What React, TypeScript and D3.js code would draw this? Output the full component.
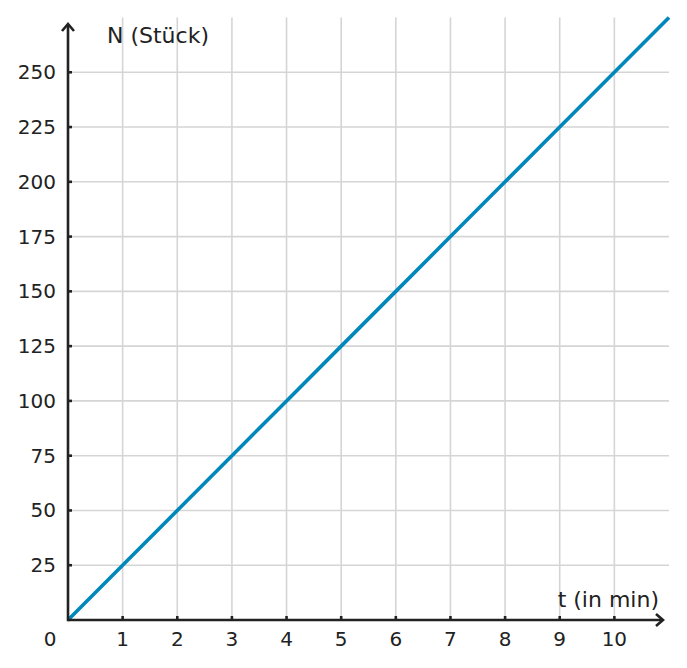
import { useMemo } from "react";
import * as d3 from "d3";

// measured points of the line N(t)
const timeValues = [0, 1, 2, 3, 4, 5, 6, 7, 8, 9, 10, 11];
const countValues = [0, 25, 50, 75, 100, 125, 150, 175, 200, 225, 250, 275];

const xTicks = [1, 2, 3, 4, 5, 6, 7, 8, 9, 10];
const yTicks = [25, 50, 75, 100, 125, 150, 175, 200, 225, 250];

const xTitle = "t (in min)";
const yTitle = "N (Stück)";

const width = 687;
const height = 668;
const font = "'DejaVu Sans', Verdana, sans-serif";
const ink = "#222222";
const gridColor = "#d5d5d5";
const lineColor = "#0087bb";

export default function App() {
  const x = useMemo(() => d3.scaleLinear().domain([0, 11]).range([68, 669]), []);
  const y = useMemo(() => d3.scaleLinear().domain([0, 275]).range([620, 17.5]), []);

  const linePath = d3
    .line<number>()
    .x((_d, i) => x(timeValues[i]))
    .y((d) => y(d))(countValues);

  const x0 = x(0);
  const y0 = y(0);
  const xEnd = 663;
  const yEnd = 24;

  return (
    <svg
      width={width}
      height={height}
      viewBox={`0 0 ${width} ${height}`}
      style={{ position: "absolute", left: 0, top: 0, background: "#fff" }}
      fontFamily={font}
    >
      <g>
        {xTicks.map((t) => (
          <line key={`gx${t}`} x1={x(t)} x2={x(t)} y1={y(275)} y2={y0} stroke={gridColor} strokeWidth={1.6} />
        ))}
        {yTicks.map((n) => (
          <line key={`gy${n}`} x1={x0} x2={x(11)} y1={y(n)} y2={y(n)} stroke={gridColor} strokeWidth={1.6} />
        ))}
      </g>

      <path d={linePath ?? ""} fill="none" stroke={lineColor} strokeWidth={3.6} />

      <g stroke={ink} strokeWidth={2.6} fill="none" strokeLinecap="butt">
        <line x1={x0} x2={xEnd - 1} y1={y0} y2={y0} />
        <line x1={x0} x2={x0} y1={y0 + 1.3} y2={yEnd + 1} />
        <polyline points={`${xEnd - 7},${y0 - 6} ${xEnd},${y0} ${xEnd - 7},${y0 + 6}`} strokeLinejoin="miter" />
        <polyline points={`${x0 - 6},${yEnd + 7} ${x0},${yEnd} ${x0 + 6},${yEnd + 7}`} strokeLinejoin="miter" />
        {xTicks.map((t) => (
          <line key={`tx${t}`} x1={x(t)} x2={x(t)} y1={y0} y2={y0 - 4} />
        ))}
        {yTicks.map((n) => (
          <line key={`ty${n}`} x1={x0} x2={x0 + 4} y1={y(n)} y2={y(n)} />
        ))}
      </g>

      <g fill={ink} fontSize={20}>
        {xTicks.map((t) => (
          <text key={`lx${t}`} x={x(t)} y={646} textAnchor="middle">
            {t}
          </text>
        ))}
        <text x={50} y={646} textAnchor="middle">
          0
        </text>
        {yTicks.map((n) => (
          <text key={`ly${n}`} x={56} y={y(n)} dy="0.35em" textAnchor="end">
            {n}
          </text>
        ))}
      </g>
      <g fill={ink} fontSize={22}>
        <text x={107} y={43} textAnchor="start">
          {yTitle}
        </text>
        <text x={659} y={607} textAnchor="end">
          {xTitle}
        </text>
      </g>
    </svg>
  );
}
